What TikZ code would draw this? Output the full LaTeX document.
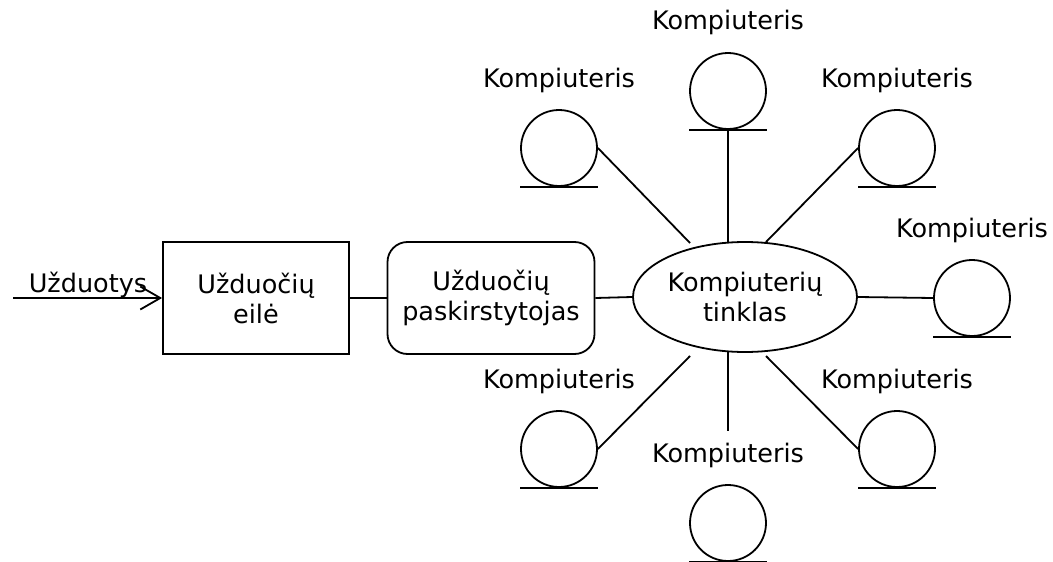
\documentclass[tikz,border=0pt]{standalone}
\usepackage{fontspec}
\setmainfont{DejaVu Sans}
\usetikzlibrary{shapes.geometric,arrows.meta}

\tikzset{
  every node/.style={font=\fontsize{25.5}{30}\selectfont},
  wire/.style={line width=1.8pt},
  stepbox/.style={draw, line width=1.8pt, minimum width=186pt, minimum height=112pt,
    inner sep=0pt, align=center},
  roundbox/.style={stepbox, minimum width=207pt, rounded corners=20pt},
  netnode/.style={ellipse, draw, line width=1.8pt, minimum width=224pt,
    minimum height=110pt, inner sep=0pt, align=center},
  pc/.style={circle, draw, line width=1.8pt, minimum size=76pt, inner sep=0pt},
  pclabel/.style={anchor=base, inner sep=0pt},
  feed/.style={wire, -{Straight Barb[length=20pt,width=23pt,line width=1.8pt]}}
}

\begin{document}
\begin{tikzpicture}[x=1pt,y=-1pt]
  \useasboundingbox (0,0) rectangle (1053,562);

  % main chain
  \node[stepbox]  (queue) at (256,298) {Užduočių\\eilė};
  \node[roundbox] (dist)  at (491,298) {Užduočių\\paskirstytojas};
  \node[netnode]  (net)   at (745,297) {Kompiuterių\\tinklas};

  % incoming tasks
  \coordinate (src) at (13,298);
  \node[pclabel] (tasks) at (88,292) {Užduotys};
  \draw[feed] (src) -- (queue.west);

  \draw[wire] (queue.east) -- (dist.west);
  \draw[wire] (dist.east) -- (net.west);

  % computers: name / centre
  \foreach \n/\x/\y in {pcT/728/91, pcTL/559/148, pcTR/897/148, pcR/972/298,
                        pcBL/559/449, pcB/728/523, pcBR/897/449} {
    \node[pc] (\n) at (\x,\y) {};
    \draw[wire] ([xshift=-39pt]\n.south) -- ([xshift=39pt]\n.south);
    \node[pclabel] (\n-lbl) at (\x,\y-61) {Kompiuteris};
  }

  % attachment points on the network
  \coordinate (nT)  at (728,243);
  \coordinate (nTL) at (690,243);
  \coordinate (nTR) at (766,242);
  \coordinate (nBL) at (690,356);
  \coordinate (nB)  at (728,352);
  \coordinate (nBR) at (766,356);
  \coordinate (bEnd) at (728,431);

  \draw[wire] (pcT.south) -- (nT);
  \draw[wire] (pcTL.east) -- (nTL);
  \draw[wire] (pcTR.west) -- (nTR);
  \draw[wire] (net.east) -- (pcR.west);
  \draw[wire] (pcBL.east) -- (nBL);
  \draw[wire] (nB) -- (bEnd);
  \draw[wire] (pcBR.west) -- (nBR);
\end{tikzpicture}
\end{document}
